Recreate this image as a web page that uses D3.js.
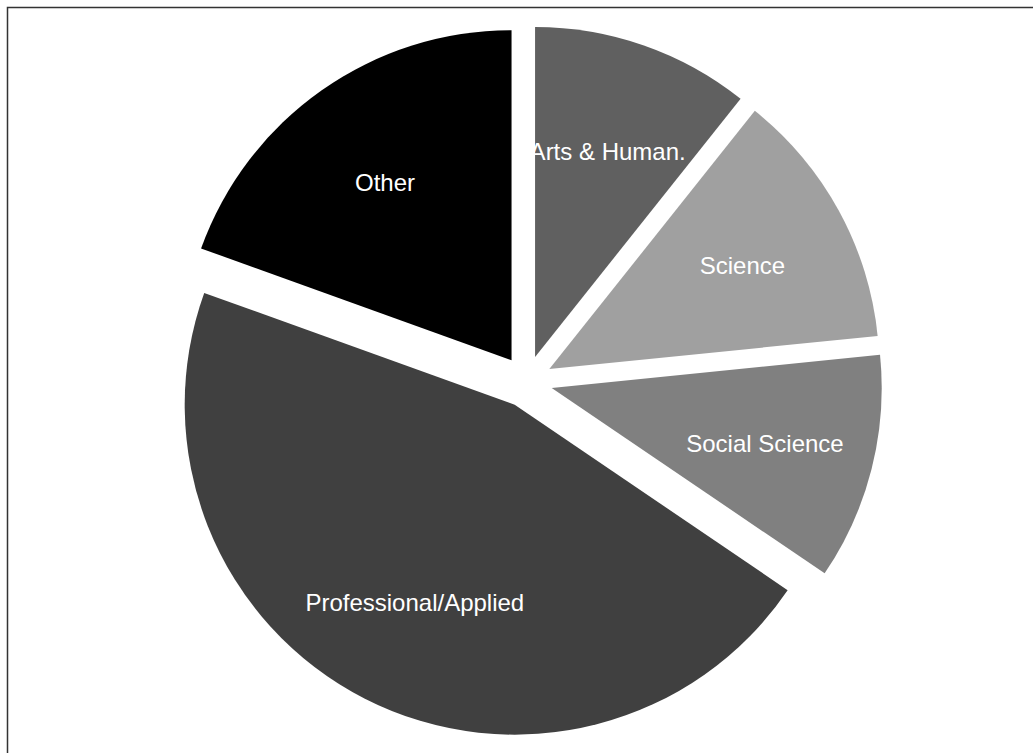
<!DOCTYPE html>
<html>
<head>
<meta charset="utf-8">
<script src="https://cdn.jsdelivr.net/npm/d3@7"></script>
<style>
  html, body { margin: 0; padding: 0; background: #ffffff; }
  svg { display: block; }
</style>
</head>
<body>
<svg id="chart" width="1033" height="753"></svg>
<script>
// Share of degrees by field (percent), clockwise from 12 o'clock
const categories = ["Arts & Human.", "Science", "Social Science", "Professional/Applied", "Other"];
const shares = [10.7, 12.7, 11.1, 46.0, 19.5];
const fills = ["#606060", "#a0a0a0", "#808080", "#404040", "#000000"];

const width = 1033, height = 753;
const cx = 526.5, cy = 381.5;
const radius = 330;
const explode = 26;        // outward offset of every slice
const labelDist = 220;     // label distance from slice tip

const svg = d3.select("#chart");

// plot-area frame
svg.append("rect")
  .attr("x", 7.5).attr("y", 7.5)
  .attr("width", width + 20).attr("height", height + 20)
  .attr("fill", "none")
  .attr("stroke", "#333333")
  .attr("stroke-width", 1.5);

const pie = d3.pie().sort(null).value(d => d.value);
const arcs = pie(categories.map((c, i) => ({ name: c, value: shares[i], color: fills[i] })));
const arc = d3.arc().innerRadius(0).outerRadius(radius);

const g = svg.append("g").attr("transform", `translate(${cx},${cy})`);

const slice = g.selectAll("g.slice")
  .data(arcs)
  .join("g")
  .attr("class", "slice")
  .attr("transform", d => {
    const a = (d.startAngle + d.endAngle) / 2;
    return `translate(${explode * Math.sin(a)},${-explode * Math.cos(a)})`;
  });

slice.append("path")
  .attr("d", arc)
  .attr("fill", d => d.data.color);

slice.append("text")
  .attr("x", d => labelDist * Math.sin((d.startAngle + d.endAngle) / 2))
  .attr("y", d => -labelDist * Math.cos((d.startAngle + d.endAngle) / 2) + 2)
  .attr("text-anchor", "middle")
  .attr("dominant-baseline", "central")
  .attr("font-family", "'Liberation Sans', Arial, sans-serif")
  .attr("font-size", 24)
  .attr("fill", "#ffffff")
  .text(d => d.data.name);
</script>
</body>
</html>
